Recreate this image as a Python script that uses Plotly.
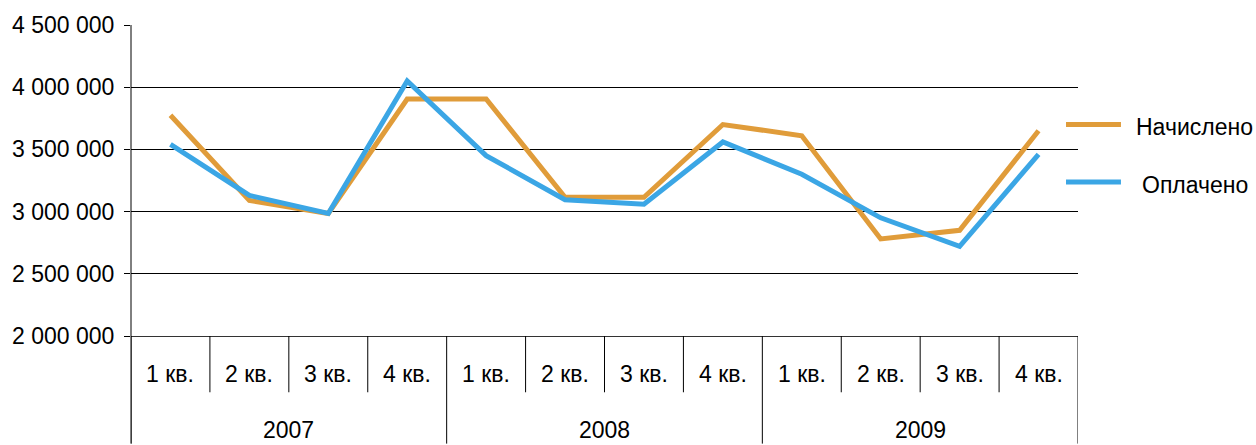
import plotly.graph_objects as go

years = ["2007", "2008", "2009"]
quarters = ["1 кв.", "2 кв.", "3 кв.", "4 кв."]
nachisleno = [3775000, 3090000, 2985000, 3905000,
              3905000, 3115000, 3115000, 3700000,
              3610000, 2780000, 2850000, 3650000]
oplacheno = [3540000, 3130000, 2985000, 4050000,
             3450000, 3095000, 3060000, 3560000,
             3300000, 2950000, 2720000, 3460000]
series_names = ["Начислено", "Оплачено"]
colors = ["#E09C3A", "#3BA6E5"]
y_ticks = [2000000, 2500000, 3000000, 3500000, 4000000, 4500000]
y_tick_text = ["2 000 000", "2 500 000", "3 000 000", "3 500 000", "4 000 000", "4 500 000"]

cats = [f"{y} {q}" for y in years for q in quarters]

W, H = 1256, 445
L, R, T, B = 130, 178, 21, 109
ph = H - T - B
FONT = "Liberation Sans, Arial, Helvetica, sans-serif"
FS = 23

fig = go.Figure()
for name, vals, c in zip(series_names, [nachisleno, oplacheno], colors):
    fig.add_trace(go.Scatter(x=cats, y=vals, mode="lines", name=name,
                             line=dict(color=c, width=5), showlegend=False))

shapes = []
annotations = []
n = len(cats)
# quarter separators
for i in range(n + 1):
    is_year = (i % len(quarters) == 0)
    depth = (H - T - ph) if is_year else (393 - (T + ph))
    shapes.append(dict(type="line", xref="x", yref="paper",
                       x0=i - 0.5, x1=i - 0.5, y0=0, y1=-depth / ph,
                       line=dict(color="black", width=1)))
# quarter labels
for i, c in enumerate(cats):
    q = quarters[i % len(quarters)]
    annotations.append(dict(x=c, xref="x", yref="paper", y=-(374 - (T + ph)) / ph,
                            text=q, showarrow=False, yanchor="middle",
                            font=dict(size=FS, color="black", family=FONT)))
# year labels
for j, yr in enumerate(years):
    annotations.append(dict(x=j * 4 + 1.5, xref="x", yref="paper",
                            y=-(431 - (T + ph)) / ph, text=yr, showarrow=False,
                            yanchor="middle",
                            font=dict(size=FS, color="black", family=FONT)))
# legend (manual)
leg_y = [121.7, 180]
for name, c, yy in zip(series_names, colors, leg_y):
    yp = 1 - (yy - T) / ph
    shapes.append(dict(type="line", xref="paper", yref="paper",
                       x0=(1066 - L) / (W - L - R), x1=(1121 - L) / (W - L - R),
                       y0=yp, y1=yp, line=dict(color=c, width=5)))
    annotations.append(dict(xref="paper", yref="paper",
                            x=(1195 - L) / (W - L - R), y=1 - (yy + 3 - T) / ph,
                            text=name, showarrow=False, xanchor="center",
                            yanchor="middle",
                            font=dict(size=FS, color="black", family=FONT)))

fig.update_layout(
    width=W, height=H,
    margin=dict(l=L, r=R, t=T, b=B, pad=0),
    paper_bgcolor="white", plot_bgcolor="white",
    showlegend=False,
    font=dict(family=FONT, size=FS, color="black"),
    xaxis=dict(type="category", categoryorder="array", categoryarray=cats,
               range=[-0.5, n - 0.5], showticklabels=False, ticks="",
               showgrid=False, zeroline=False, showline=True,
               linecolor="#333333", linewidth=1),
    yaxis=dict(range=[2000000, 4500000], tickvals=y_ticks, ticktext=y_tick_text,
               showgrid=True, gridcolor="black", gridwidth=1, zeroline=False,
               showline=False, ticks="outside", ticklen=6, tickcolor="black",
               ticklabelstandoff=5,
               tickfont=dict(size=FS, family=FONT, color="black")),
    shapes=shapes + [dict(type="line", xref="paper", yref="paper",
                          x0=0, x1=0, y0=1, y1=-(H - T - ph) / ph,
                          line=dict(color="black", width=1))],
    annotations=annotations,
)
fig.write_html("out.html", config={"displayModeBar": False},
               post_script="document.body.style.margin='0px';document.body.style.overflow='hidden';")
